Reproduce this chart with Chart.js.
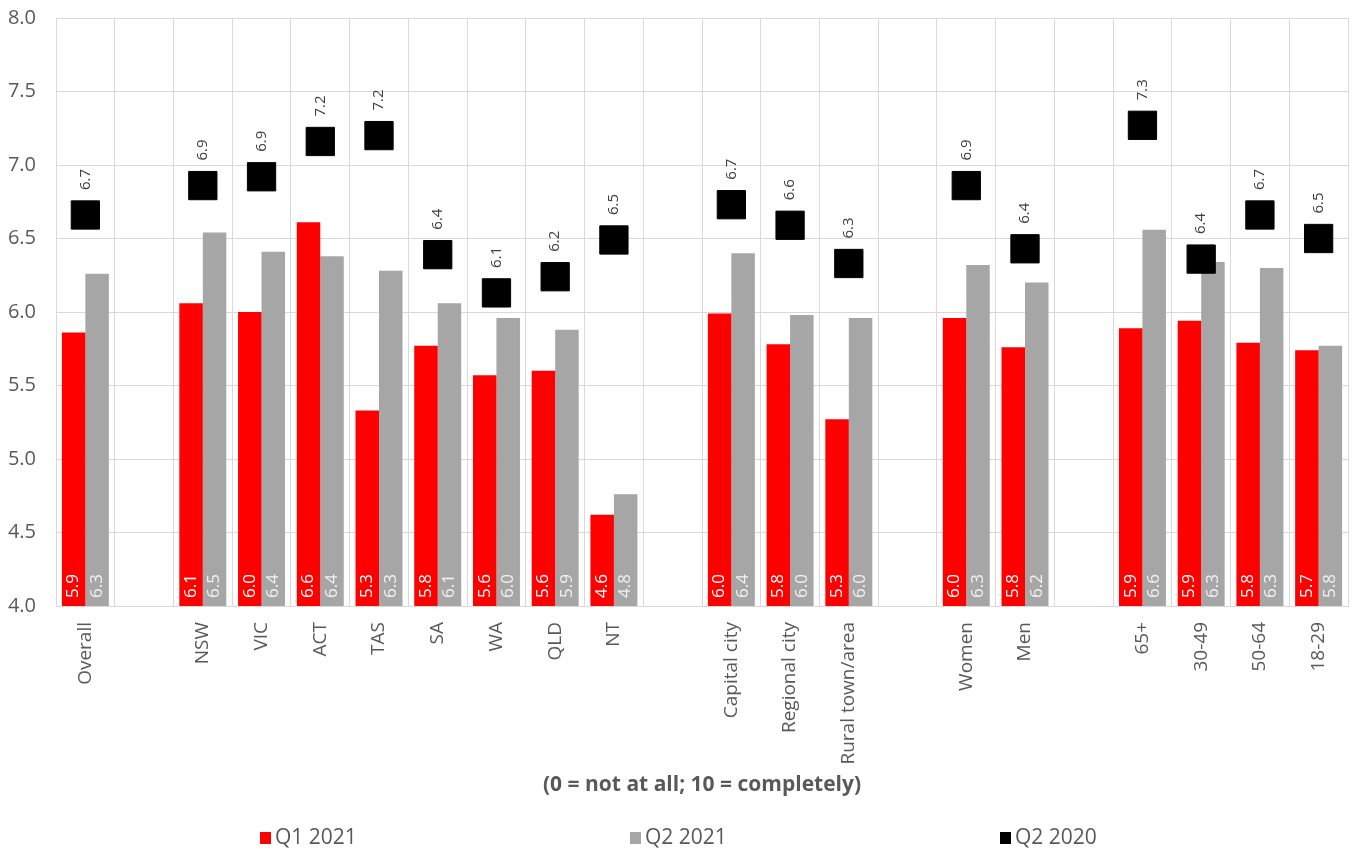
<!DOCTYPE html>
<html lang="en">
<head>
  <meta charset="UTF-8" />
  <title>Satisfaction by group</title>
  <script src="https://cdn.jsdelivr.net/npm/chart.js"></script>
  <style>
    html, body { margin: 0; padding: 0; background: #ffffff; }
    #wrap { width: 1353px; height: 849px; }
  </style>
</head>
<body>
<div id="wrap"><canvas id="chart" width="1353" height="849"></canvas></div>

<script>
  const categories = ['Overall', '', 'NSW', 'VIC', 'ACT', 'TAS', 'SA', 'WA', 'QLD', 'NT', '',
    'Capital city', 'Regional city', 'Rural town/area', '', 'Women', 'Men', '',
    '65+', '30-49', '50-64', '18-29'];

  const q1_2021 = [5.86, null, 6.06, 6.00, 6.61, 5.33, 5.77, 5.57, 5.60, 4.62, null,
    5.99, 5.78, 5.27, null, 5.96, 5.76, null, 5.89, 5.94, 5.79, 5.74];

  const q2_2021 = [6.26, null, 6.54, 6.41, 6.38, 6.28, 6.06, 5.96, 5.88, 4.76, null,
    6.40, 5.98, 5.96, null, 6.32, 6.20, null, 6.56, 6.34, 6.30, 5.77];

  const q2_2020 = [6.66, null, 6.86, 6.92, 7.16, 7.20, 6.39, 6.13, 6.24, 6.49, null,
    6.73, 6.59, 6.33, null, 6.86, 6.43, null, 7.27, 6.36, 6.66, 6.50];

  const yTicks = { min: 4, max: 8, step: 0.5 };
  const axisTitle = '(0 = not at all; 10 = completely)';

  const FONT = "'Open Sans', 'Noto Sans', sans-serif";
  const TEXT = '#595959';

  // value labels: rotated, at the base of bars and above the squares
  const valueLabels = {
    id: 'valueLabels',
    afterDatasetsDraw(chart) {
      const ctx = chart.ctx;
      const bottom = chart.chartArea.bottom;
      chart.data.datasets.forEach((ds, i) => {
        const meta = chart.getDatasetMeta(i);
        meta.data.forEach((el, j) => {
          const v = ds.data[j];
          if (v === null || v === undefined) return;
          ctx.save();
          if (ds.type === 'line') {
            ctx.translate(el.x, el.y - 25);
            ctx.font = '15px ' + FONT;
          } else {
            ctx.translate(el.x, bottom - 8);
            ctx.font = '17px ' + FONT;
          }
          ctx.rotate(-Math.PI / 2);
          ctx.fillStyle = ds.labelColor;
          ctx.textAlign = 'left';
          ctx.textBaseline = 'middle';
          ctx.fillText(v.toFixed(1), 0, 0);
          ctx.restore();
        });
      });
    }
  };

  // legend spread evenly along the bottom
  const bottomLegend = {
    id: 'bottomLegend',
    afterDraw(chart) {
      const ctx = chart.ctx;
      const y = 838;
      chart.data.datasets.forEach((ds, i) => {
        const x = 260 + i * 370;
        ctx.save();
        ctx.fillStyle = ds.backgroundColor;
        ctx.fillRect(x, y - 6, 11, 12);
        ctx.fillStyle = TEXT;
        ctx.font = '21px ' + FONT;
        ctx.textBaseline = 'middle';
        ctx.textAlign = 'left';
        ctx.fillText(ds.label, x + 15, y);
        ctx.restore();
      });
    }
  };

  new Chart(document.getElementById('chart'), {
    type: 'bar',
    data: {
      labels: categories,
      datasets: [
        {
          label: 'Q1 2021',
          data: q1_2021,
          backgroundColor: '#ff0000',
          labelColor: '#ffffff',
          categoryPercentage: 0.8,
          barPercentage: 1.0,
          order: 2
        },
        {
          label: 'Q2 2021',
          data: q2_2021,
          backgroundColor: '#a6a6a6',
          labelColor: '#f2f2f2',
          categoryPercentage: 0.8,
          barPercentage: 1.0,
          order: 2
        },
        {
          type: 'line',
          label: 'Q2 2020',
          data: q2_2020,
          showLine: false,
          backgroundColor: '#000000',
          borderColor: '#000000',
          pointStyle: 'rect',
          pointRadius: 20,
          pointBorderWidth: 1,
          pointBackgroundColor: '#000000',
          pointBorderColor: '#000000',
          labelColor: '#404040',
          order: 1
        }
      ]
    },
    options: {
      responsive: false,
      animation: false,
      layout: { autoPadding: false, padding: { top: 18, right: 5, bottom: 51, left: 0 } },
      plugins: {
        legend: { display: false },
        tooltip: { enabled: false }
      },
      scales: {
        x: {
          offset: true,
          grid: { color: '#d9d9d9', lineWidth: 1, offset: true, drawTicks: false },
          border: { color: '#d9d9d9' },
          ticks: {
            color: TEXT,
            font: { family: FONT, size: 19 },
            minRotation: 90,
            maxRotation: 90,
            autoSkip: false,
            padding: 16
          },
          title: {
            display: true,
            text: axisTitle,
            color: TEXT,
            font: { family: FONT, size: 21, weight: 'bold' },
            padding: { top: 0, bottom: 0 }
          },
          afterFit(scale) {
            scale.height = 192;
            scale.paddingLeft = 0;
            scale.paddingRight = 0;
          }
        },
        y: {
          min: yTicks.min,
          max: yTicks.max,
          grid: { color: '#d9d9d9', lineWidth: 1, drawTicks: false },
          border: { display: false },
          ticks: {
            stepSize: yTicks.step,
            color: TEXT,
            font: { family: FONT, size: 20 },
            padding: 20,
            callback: v => v.toFixed(1)
          },
          afterFit(scale) {
            scale.width = 56;
            scale.paddingTop = 0;
            scale.paddingBottom = 0;
          }
        }
      }
    },
    plugins: [valueLabels, bottomLegend]
  });
</script>
</body>
</html>
